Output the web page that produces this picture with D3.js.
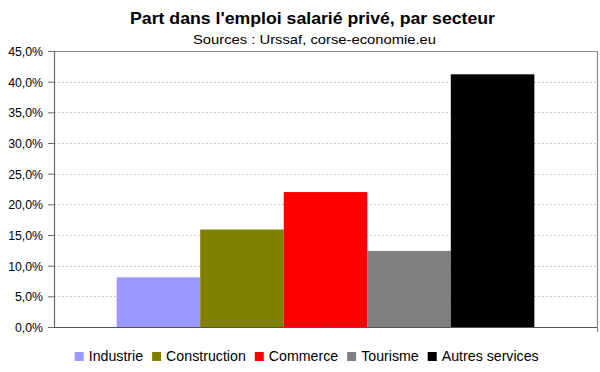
<!DOCTYPE html>
<html>
<head>
<meta charset="utf-8">
<script src="https://cdn.jsdelivr.net/npm/d3@7"></script>
<style>
  body { margin: 0; background: #fff; }
  text { font-family: "Liberation Sans", Arial, sans-serif; }
</style>
</head>
<body>
<div id="chart"></div>
<script>
const categories = ["Industrie", "Construction", "Commerce", "Tourisme", "Autres services"];
const values = [8.1, 15.9, 22.0, 12.4, 41.2];
const colors = ["#9999ff", "#808000", "#ff0000", "#808080", "#000000"];
const yTicks = [0, 5, 10, 15, 20, 25, 30, 35, 40, 45];

const width = 600, height = 372;
const plot = { left: 54, right: 597, top: 51, bottom: 327 };

const svg = d3.select("#chart").append("svg")
  .attr("width", width)
  .attr("height", height);

svg.append("rect").attr("width", width).attr("height", height).attr("fill", "#fff");

// titres (le graphique d'origine est un peu étiré horizontalement)
svg.append("text")
  .attr("x", 130).attr("y", 24)
  .attr("font-size", "17px")
  .attr("font-weight", "bold")
  .attr("fill", "#000")
  .attr("textLength", 365)
  .attr("lengthAdjust", "spacingAndGlyphs")
  .text("Part dans l'emploi salarié privé, par secteur");

svg.append("text")
  .attr("x", 193).attr("y", 43.5)
  .attr("font-size", "13px")
  .attr("fill", "#000")
  .attr("textLength", 243)
  .attr("lengthAdjust", "spacingAndGlyphs")
  .text("Sources : Urssaf, corse-economie.eu");

const y = d3.scaleLinear().domain([0, 45]).range([plot.bottom, plot.top]);
const x = d3.scaleBand().domain(categories)
  .range([plot.left, plot.right])
  .paddingInner(0)
  .paddingOuter(0.75);

// grille
svg.append("g")
  .selectAll("line")
  .data(yTicks.filter(d => d > 0 && d < 45))
  .enter().append("line")
  .attr("x1", plot.left).attr("x2", plot.right)
  .attr("y1", d => Math.round(y(d)) + 0.5)
  .attr("y2", d => Math.round(y(d)) + 0.5)
  .attr("stroke", "#c8c8c8")
  .attr("stroke-dasharray", "2 2");

// cadre
svg.append("path")
  .attr("d", `M${plot.left},${plot.top + 0.5}H${plot.right + 0.5}V${plot.bottom + 5}`)
  .attr("fill", "none")
  .attr("stroke", "#8a8a8a")
  .attr("stroke-width", 1.2);

// barres
svg.append("g")
  .selectAll("rect")
  .data(categories)
  .enter().append("rect")
  .attr("x", d => x(d))
  .attr("y", (d, i) => y(values[i]))
  .attr("width", x.bandwidth())
  .attr("height", (d, i) => y(0) - y(values[i]))
  .attr("fill", (d, i) => colors[i]);

// axe Y
const yAxis = d3.axisLeft(y)
  .tickValues(yTicks)
  .tickSize(6)
  .tickFormat(d => d3.format(".1f")(d).replace(".", ",") + "%");

const gy = svg.append("g")
  .attr("transform", `translate(${plot.left},0)`)
  .call(yAxis);
gy.select(".domain").attr("stroke", "#6a6a6a").attr("stroke-width", 1.2);
gy.selectAll(".tick line").attr("stroke", "#6a6a6a");
gy.selectAll(".tick text")
  .attr("x", -11)
  .attr("dy", "0.36em")
  .attr("font-size", "12.3px")
  .attr("font-family", "Liberation Sans, Arial, sans-serif")
  .attr("fill", "#000");

// axe X
svg.append("line")
  .attr("x1", plot.left).attr("x2", plot.right)
  .attr("y1", plot.bottom + 0.5).attr("y2", plot.bottom + 0.5)
  .attr("stroke", "#555")
  .attr("stroke-width", 1.2);
svg.append("line")
  .attr("x1", (plot.left + plot.right) / 2).attr("x2", (plot.left + plot.right) / 2)
  .attr("y1", plot.bottom - 2).attr("y2", plot.bottom + 1)
  .attr("stroke", "#555");

// légende
const legend = svg.append("g");
let lx = 0;
categories.forEach((c, i) => {
  const g = legend.append("g").attr("transform", `translate(${lx},0)`);
  g.append("rect")
    .attr("x", 0).attr("y", 352)
    .attr("width", 9).attr("height", 9)
    .attr("fill", colors[i]);
  const t = g.append("text")
    .attr("x", 14).attr("y", 361)
    .attr("font-size", "14.2px")
    .attr("fill", "#000")
    .text(c);
  lx += 14 + t.node().getComputedTextLength() + 9;
});
const legendWidth = lx - 9;
legend.attr("transform", `translate(${306.7 - legendWidth / 2},0)`);
</script>
</body>
</html>
